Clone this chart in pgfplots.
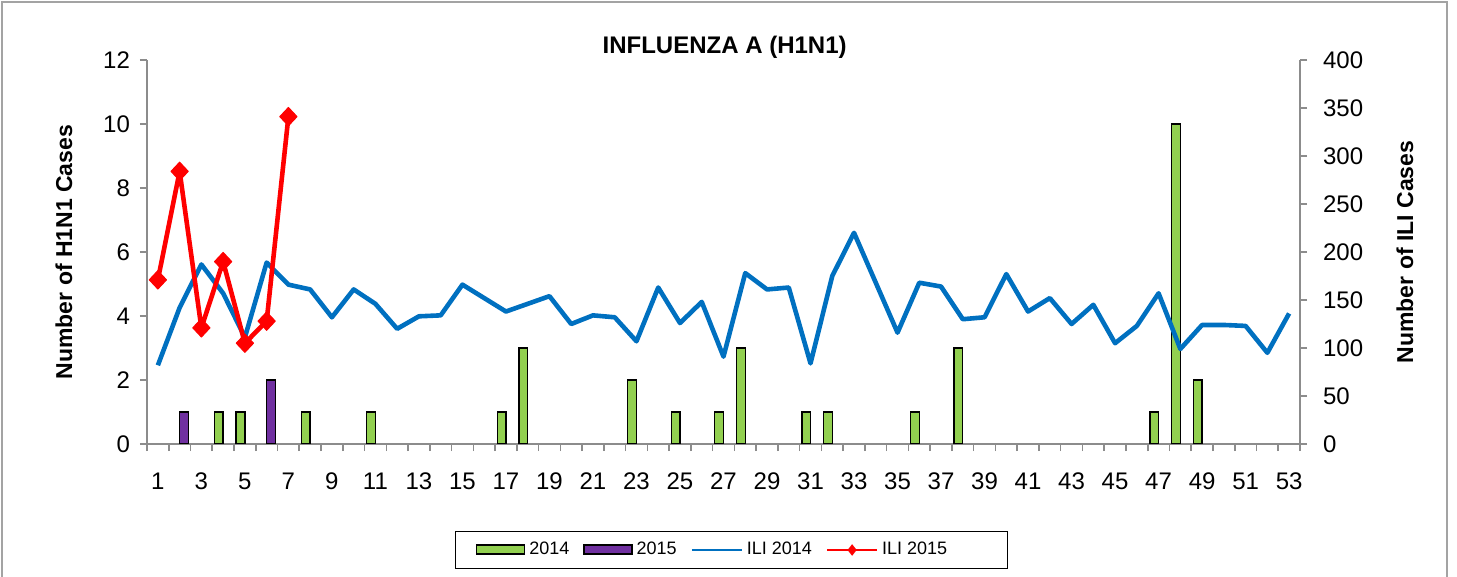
\documentclass[border=0pt]{standalone}
\usepackage{pgfplots}
\pgfplotsset{compat=1.18}
\usepackage{fontspec}
\setmainfont{Liberation Sans}
\definecolor{barg}{HTML}{92D050}
\definecolor{barp}{HTML}{7030A0}
\definecolor{iliA}{HTML}{0070C0}
\definecolor{iliB}{HTML}{FF0000}
\definecolor{axgray}{HTML}{8C8C8C}
\pgfplotstableread{
w v
4 1
5 1
8 1
11 1
17 1
18 3
23 2
25 1
27 1
28 3
31 1
32 1
36 1
38 3
47 1
48 10
49 2
}\barsA
\pgfplotstableread{
w v
2 1
6 2
}\barsB
\pgfplotstableread{
w v
1 82
2 142
3 187
4 157
5 111
6 189
7 166
8 161
9 132
10 161
11 146
12 120
13 133
14 134
15 166
16 152
17 138
18 146
19 154
20 125
21 134
22 132
23 107
24 163
25 126
26 148
27 91
28 178
29 161
30 163
31 84
32 175
33 220
34 168
35 116
36 168
37 164
38 130
39 132
40 177
41 138
42 152
43 125
44 145
45 105
46 123
47 157
48 99
49 124
50 124
51 123
52 95
53 136
}\iliA
\pgfplotstableread{
w v
1 171
2 284
3 121
4 190
5 105
6 128
7 341
}\iliB
\begin{document}
\begin{tikzpicture}
\useasboundingbox (0,0) rectangle (728.5pt,-288.5pt);
\draw[axgray!80, line width=0.7pt] (1pt,-1pt) rectangle (723.5pt,-300pt);
\pgfplotsset{
  base/.style={
    at={(73.5pt,-222pt)}, anchor=south west,
    scale only axis, width=576.5pt, height=192pt,
    xmin=0.5, xmax=53.5,
    axis line style={axgray, line width=0.8pt},
    tick style={axgray, line width=0.8pt},
    tick align=outside,
    major tick length=3.5pt,
    tick label style={font=\fontsize{12}{14}\selectfont},
    /pgf/number format/assume math mode=true,
  }
}
\begin{axis}[base,
  ymin=0, ymax=12, ytick={0,2,...,12},
  axis x line*=bottom, axis y line*=left,
  xtick={0.5,1.5,...,53.5}, xticklabels={},
  extra x ticks={1,3,...,53},
  extra x tick style={major tick length=0pt, xticklabel style={yshift=-11pt}},
  yticklabel style={xshift=-1.5pt},
  ylabel={Number of H1N1 Cases},
  ylabel style={at={(axis description cs:-0.072,0.5)}, anchor=center, rotate=0, font=\fontsize{11.5}{13}\selectfont\bfseries},
  title={INFLUENZA A (H1N1)},
  title style={at={(axis description cs:0.501,1.002)}, anchor=center, font=\fontsize{12}{14}\selectfont\bfseries},
]
\addplot[ybar, bar width=0.4, bar shift=-0.2, fill=barg, draw=black, line width=0.7pt] table[x=w,y=v] {\barsA};
\addplot[ybar, bar width=0.4, bar shift=0.2, fill=barp, draw=black, line width=0.7pt] table[x=w,y=v] {\barsB};
\end{axis}
\begin{axis}[base,
  ymin=0, ymax=400, ytick={0,50,...,400},
  axis x line=none, axis y line*=right,
  yticklabel style={xshift=4.5pt},
  ylabel={Number of ILI Cases},
  ylabel style={at={(axis description cs:1.091,0.5)}, anchor=center, rotate=0, font=\fontsize{11.5}{13}\selectfont\bfseries},
  legend columns=4,
  legend style={at={(axis description cs:0.507,-0.276)}, anchor=center, draw=black, line width=0.6pt,
    font=\fontsize{9}{11}\selectfont, inner xsep=10pt, inner ysep=3.5pt,
    /tikz/every even column/.append style={column sep=5pt},
    /tikz/every odd column/.append style={column sep=0pt}},
]
\addlegendimage{legend image code/.code={\draw[fill=barg, draw=black, line width=0.7pt] (0pt,-2pt) rectangle (24pt,2.5pt);}}
\addlegendentry{2014}
\addlegendimage{legend image code/.code={\draw[fill=barp, draw=black, line width=0.7pt] (0pt,-2pt) rectangle (24pt,2.5pt);}}
\addlegendentry{2015}
\addlegendimage{legend image code/.code={\draw[iliA, line width=1.1pt] (0pt,0pt) -- (25pt,0pt);}}
\addlegendentry{ILI 2014}
\addlegendimage{legend image code/.code={\draw[iliB, line width=1.1pt] (0pt,0pt) -- (25pt,0pt); \fill[iliB] (12.5pt,2.4pt) -- (14.4pt,0pt) -- (12.5pt,-2.4pt) -- (10.6pt,0pt) -- cycle;}}
\addlegendentry{ILI 2015\rule{18pt}{0pt}}
\addplot[forget plot, iliA, line width=2.3pt, line join=round, no marks] table[x=w,y=v] {\iliA};
\addplot[forget plot, iliB, line width=2.3pt, line join=round, mark=diamond*, mark size=4.6pt, mark options={solid, fill=iliB, line width=0.5pt, xscale=1.25}] table[x=w,y=v] {\iliB};
\end{axis}
\end{tikzpicture}
\end{document}
